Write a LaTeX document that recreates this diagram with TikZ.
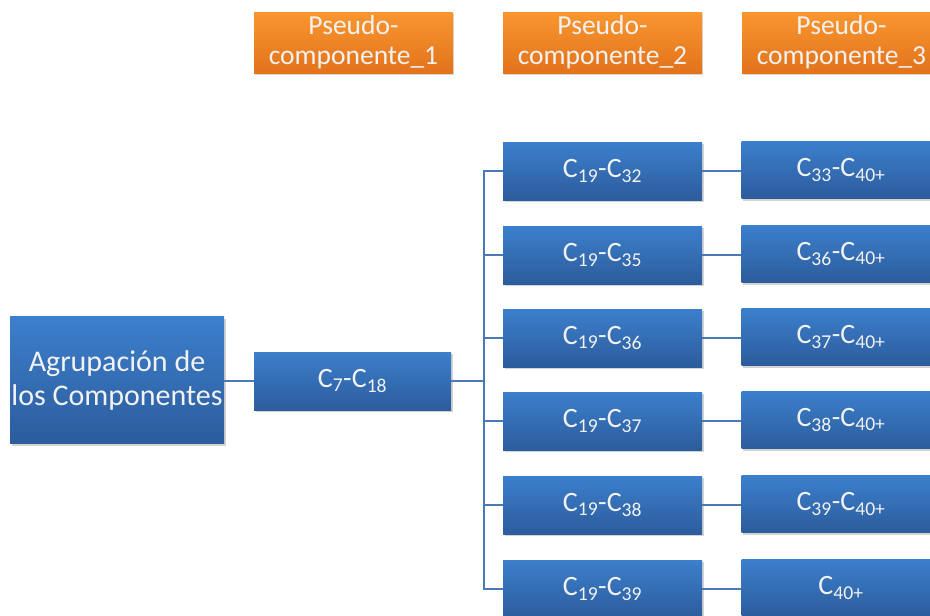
\documentclass[tikz,border=0pt]{standalone}
\usepackage{fontspec}
\setmainfont{Carlito}
\usetikzlibrary{shadows}
\definecolor{btop}{HTML}{3C7FCC}
\definecolor{bbot}{HTML}{2C5C9C}
\definecolor{otop}{HTML}{F9962F}
\definecolor{obot}{HTML}{E2731C}
\definecolor{lnk}{HTML}{4A7AB5}
\definecolor{txt}{HTML}{F2F2F2}
\tikzset{
  bluebox/.style={rectangle, top color=btop, bottom color=bbot, draw=none,
    text=txt, font=\fontsize{28}{34}\selectfont, align=center, inner sep=0pt,
    drop shadow={shadow xshift=1.5pt, shadow yshift=-2pt, opacity=0.35, fill=gray}},
  orbox/.style={rectangle, top color=otop, bottom color=obot, draw=none,
    text=txt, font=\fontsize{27.5}{30}\selectfont, align=center, inner sep=0pt,
    minimum width=199pt, minimum height=61pt,
    drop shadow={shadow xshift=1pt, shadow yshift=-1.5pt, opacity=0.3, fill=gray}},
  rowbox/.style={bluebox, minimum width=199pt, minimum height=58pt},
  link/.style={draw=lnk, line width=1.3pt},
  mainlink/.style={draw=lnk, line width=2pt},
}
\newcommand{\sbs}[1]{\textsubscript{#1}}
\begin{document}
\begin{tikzpicture}[x=1pt,y=-1pt]
\useasboundingbox (0,0) rectangle (930,616);
\clip (0,0) rectangle (930,616);
\node[orbox] (p1) at (353.5,42.5) {Pseudo-\\componente\_1};
\node[orbox] (p2) at (602.5,42.5) {Pseudo-\\componente\_2};
\node[orbox] (p3) at (841.5,42.5) {Pseudo-\\componente\_3};
\node[bluebox, font=\fontsize{30}{34}\selectfont, minimum width=214pt, minimum height=127pt] (root) at (117,380) {Agrupación de\\los Componentes};
\node[rowbox, minimum width=197pt] (c7) at (352.5,381) {C\sbs{7}-C\sbs{18}};
\node[rowbox] (a1) at (602.5,171) {C\sbs{19}-C\sbs{32}};
\node[rowbox] (a2) at (602.5,255) {C\sbs{19}-C\sbs{35}};
\node[rowbox] (a3) at (602.5,338) {C\sbs{19}-C\sbs{36}};
\node[rowbox] (a4) at (602.5,421) {C\sbs{19}-C\sbs{37}};
\node[rowbox] (a5) at (602.5,505) {C\sbs{19}-C\sbs{38}};
\node[rowbox] (a6) at (602.5,589) {C\sbs{19}-C\sbs{39}};
\node[rowbox, minimum height=57pt] (b1) at (841,170) {C\sbs{33}-C\sbs{40+}};
\node[rowbox, minimum height=57pt] (b2) at (841,254) {C\sbs{36}-C\sbs{40+}};
\node[rowbox, minimum height=57pt] (b3) at (841,337) {C\sbs{37}-C\sbs{40+}};
\node[rowbox, minimum height=57pt] (b4) at (841,420) {C\sbs{38}-C\sbs{40+}};
\node[rowbox, minimum height=57pt] (b5) at (841,504) {C\sbs{39}-C\sbs{40+}};
\node[rowbox, minimum height=57pt] (b6) at (841,588) {C\sbs{40+}};
\coordinate (j) at (484,381);
\draw[mainlink] (root.east |- c7.west) -- (c7.west);
\draw[mainlink] (c7.east) -- (j);
\foreach \i in {1,...,6}{
  \draw[link] (j) |- (a\i.west);
  \draw[link] (a\i.east) -- (a\i.east -| b\i.west);
}
\end{tikzpicture}
\end{document}
